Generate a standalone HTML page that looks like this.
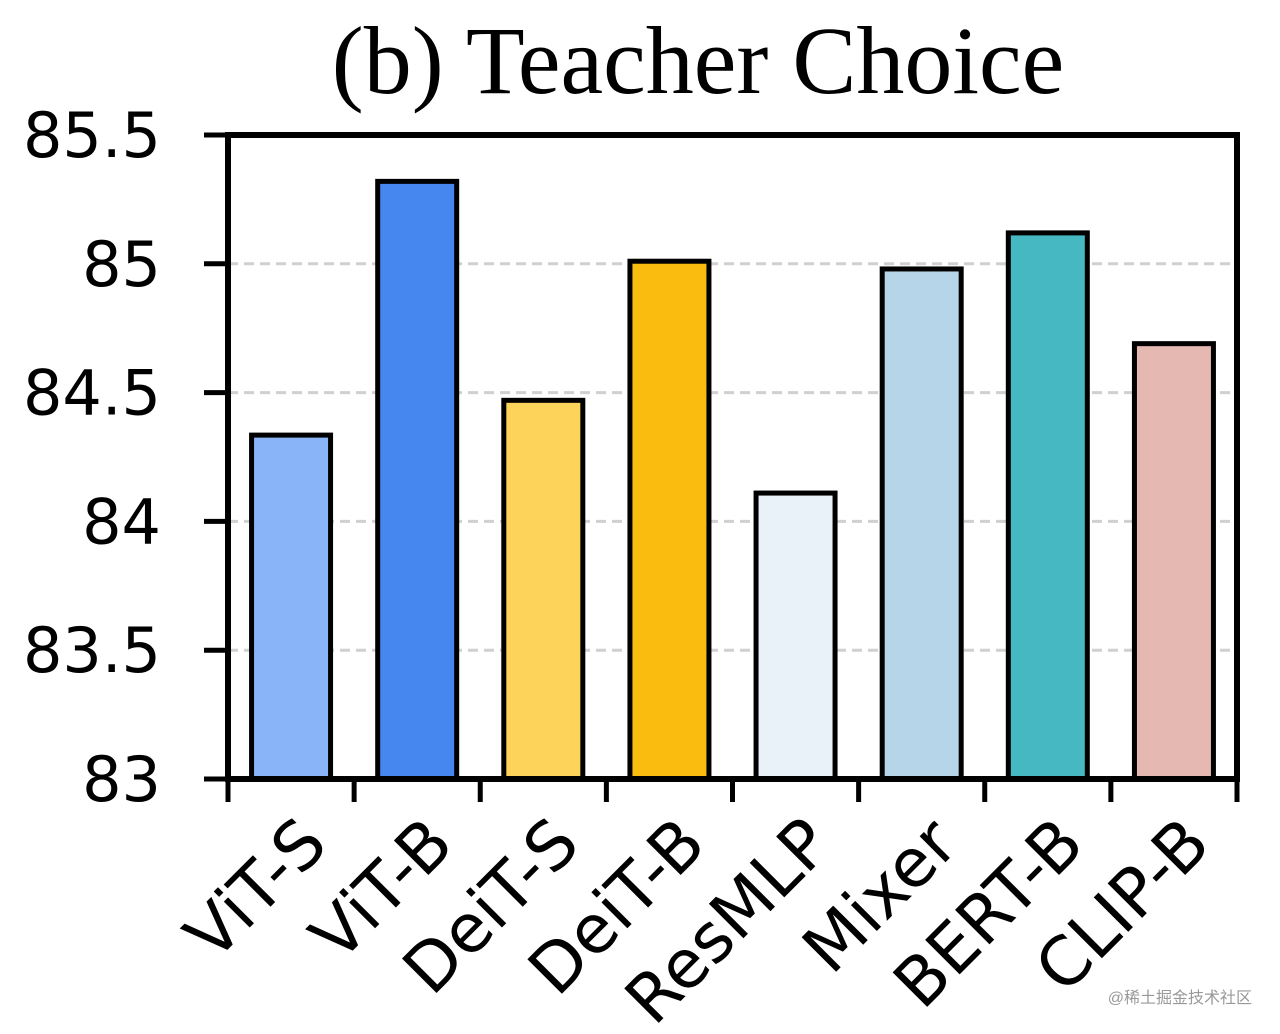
<!DOCTYPE html>
<html><head><meta charset="utf-8"><style>
body{margin:0;background:#fff;}
svg{display:block;}
</style></head><body>
<svg id="chart" width="1280" height="1034" viewBox="0 0 1280 1034">
<text x="698" y="93" text-anchor="middle" font-family="'Liberation Serif',serif" font-size="96" fill="#000">(b) Teacher Choice</text>
<g id="grid"></g>
<g id="bars"></g>
<rect x="228" y="135" width="1009" height="644" fill="none" stroke="#000" stroke-width="6"/>
<g id="yticks"></g>
<g id="xticks"></g>
<text x="1252" y="1003" text-anchor="end" font-family="'Liberation Sans','Noto Sans CJK SC',sans-serif" font-size="16" fill="#999">@稀土掘金技术社区</text>
</svg>
<script>
const categories = ["ViT-S","ViT-B","DeiT-S","DeiT-B","ResMLP","Mixer","BERT-B","CLIP-B"];
const values = [84.335, 85.32, 84.47, 85.01, 84.11, 84.98, 85.12, 84.69];
const colors = ["#8ab4f8","#4587ee","#fdd35a","#fbbc10","#e8f2f8","#b6d5e8","#45b8c2","#e6b8b2"];
const yTicks = [83, 83.5, 84, 84.5, 85, 85.5];
const yTickLabels = ["83","83.5","84","84.5","85","85.5"];
const NS="http://www.w3.org/2000/svg";
const L=228,R=1237,T=135,B=779,ymin=83,ymax=85.5;
const y=v=>B-(v-ymin)/(ymax-ymin)*(B-T);
const bw=(R-L)/categories.length;
const x=i=>L+i*bw;
function mk(tag,attrs,parent){const e=document.createElementNS(NS,tag);for(const k in attrs)e.setAttribute(k,attrs[k]);document.getElementById(parent).appendChild(e);return e;}
yTicks.forEach((t,i)=>{
  if(t>ymin&&t<ymax){const g=mk('line',{x1:L,x2:R,y1:y(t),y2:y(t),stroke:'#d0d0d0','stroke-width':3,'stroke-dasharray':'10,6'},'grid');
  
  }
  const tk=mk('line',{x1:L-24,x2:L,y1:y(t),y2:y(t),stroke:'#000','stroke-width':5},'yticks');
  
  
  const tx=mk('text',{x:161,y:y(t)+22,'text-anchor':'end','font-family':"'DejaVu Sans',sans-serif",'font-size':62,fill:'#000'},'yticks');
  tx.textContent=yTickLabels[i];
  
  
});
for(let i=0;i<=categories.length;i++){
  const t=mk('line',{x1:x(i),x2:x(i),y1:B,y2:B+23,stroke:'#000','stroke-width':5},'xticks');
  
  
}
categories.forEach((c,i)=>{
  const cx=x(i)+bw/2, w=79;
  const r=mk('rect',{x:cx-w/2,y:y(values[i]),width:w,height:B-y(values[i]),fill:colors[i],stroke:'#000','stroke-width':5},'bars');
  
  
  const lx=cx+4, ly=812;
  const tx=mk('text',{x:lx,y:ly,'text-anchor':'end','dominant-baseline':'hanging','font-family':"'DejaVu Sans',sans-serif",'font-size':67,fill:'#000',transform:`rotate(-45 ${lx} ${ly})`},'xticks');
  tx.textContent=c;
  
  
});
</script>
</body></html>
